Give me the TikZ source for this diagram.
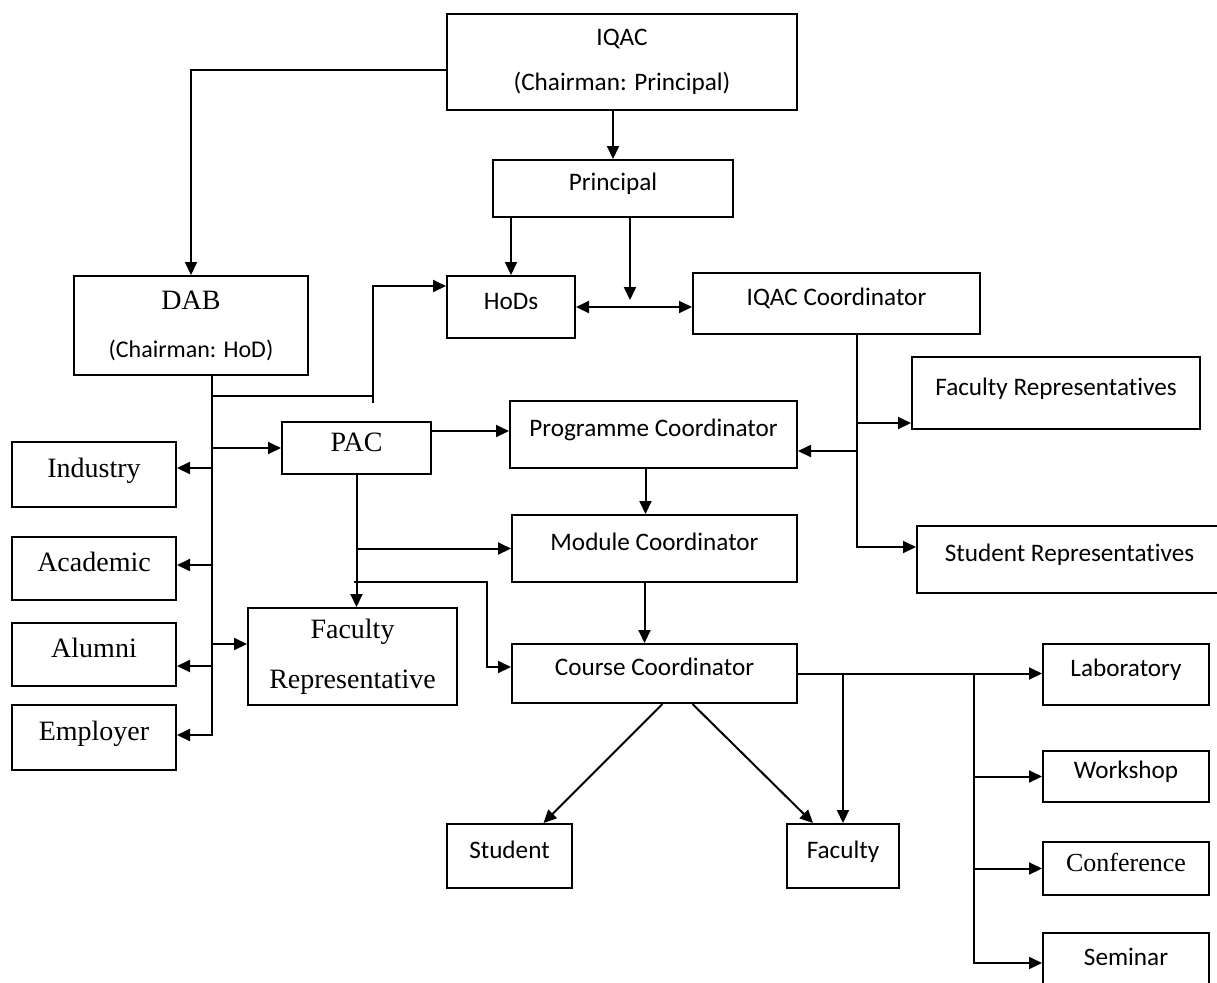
\documentclass[tikz,border=0pt]{standalone}
\usepackage{fontspec}
\setmainfont{Liberation Serif}
\newfontfamily\calib[Ligatures=NoCommon]{Carlito}
\usetikzlibrary{arrows.meta}

\tikzset{
  orgbox/.style = {draw, line width=1pt, inner sep=0pt, align=center},
  sans/.style = {font=\calib\fontsize{12.6}{15}\selectfont},
  serif/.style = {font=\fontsize{14}{17}\selectfont},
  oneline/.style = {text height=8pt, text depth=6pt},
  onelineserif/.style = {text height=9pt, text depth=6pt},
  wire/.style = {line width=1pt},
  link/.style = {wire, -{Triangle[length=6.5pt, width=6pt]}},
  twoway/.style = {wire, {Triangle[length=6.5pt, width=6pt]}-{Triangle[length=6.5pt, width=6pt]}}
}

\begin{document}
\begin{tikzpicture}[x=0.5pt, y=-0.5pt]
    \useasboundingbox (0,0) rectangle (1217,982);

    % top of the chart
    \node (iqac) [orgbox, sans, minimum width=175pt, minimum height=48pt] at (622,62) {IQAC\\[7.5pt](Chairman: Principal)};
    \node (princ) [orgbox, sans, oneline, minimum width=120pt, minimum height=28.5pt] at (613,188.5) {Principal};
    \node (hods) [orgbox, sans, oneline, minimum width=64pt, minimum height=31pt] at (511,307) {HoDs};
    \node (iqacc) [orgbox, sans, oneline, minimum width=143.5pt, minimum height=30.5pt] at (836.5,303.5) {IQAC Coordinator};
    \node (dab) [orgbox, font=\calib\fontsize{12}{14}\selectfont, minimum width=117pt, minimum height=49.5pt] at (191,325.5) {{\rmfamily\fontsize{14}{14}\selectfont DAB}\\[10pt](Chairman: HoD)};

    % middle
    \node (facreps) [orgbox, sans, oneline, minimum width=144pt, minimum height=36pt] at (1056,393) {Faculty Representatives};
    \node (studreps) [orgbox, sans, oneline, minimum width=152.5pt, minimum height=33.5pt] at (1069.5,559.5) {Student Representatives};
    \node (pac) [orgbox, serif, onelineserif, minimum width=74.5pt, minimum height=26pt] at (356.5,448) {PAC};
    \node (progc) [orgbox, sans, oneline, minimum width=143.5pt, minimum height=33.5pt] at (653.5,434.5) {Programme Coordinator};
    \node (modc) [orgbox, sans, oneline, minimum width=142.5pt, minimum height=33.5pt] at (654.5,548.5) {Module Coordinator};
    \node (coursec) [orgbox, sans, oneline, minimum width=142.5pt, minimum height=29.5pt] at (654.5,673.5) {Course Coordinator};
    \node (facrep) [orgbox, serif, minimum width=104.5pt, minimum height=48.5pt] at (352.5,656.5) {Faculty\\[8pt]Representative};

    % left column
    \node (industry) [orgbox, serif, onelineserif, minimum width=82pt, minimum height=32.5pt] at (94,474.5) {Industry};
    \node (academic) [orgbox, serif, onelineserif, minimum width=82pt, minimum height=31.5pt] at (94,568.5) {Academic};
    \node (alumni) [orgbox, serif, onelineserif, minimum width=82pt, minimum height=31.5pt] at (94,654.5) {Alumni};
    \node (employer) [orgbox, serif, onelineserif, minimum width=82pt, minimum height=32.5pt] at (94,737.5) {Employer};

    % bottom and right column
    \node (student) [orgbox, sans, oneline, minimum width=62.5pt, minimum height=32pt] at (509.5,856) {Student};
    \node (faculty) [orgbox, sans, oneline, minimum width=56pt, minimum height=32pt] at (843,856) {Faculty};
    \node (lab) [orgbox, sans, oneline, minimum width=83pt, minimum height=30.5pt] at (1126,674.5) {Laboratory};
    \node (workshop) [orgbox, sans, oneline, minimum width=83pt, minimum height=25.5pt] at (1126,776.5) {Workshop};
    \node (conference) [orgbox, onelineserif, font=\fontsize{13}{15}\selectfont, minimum width=83pt, minimum height=26.5pt] at (1126,868.5) {Conference};
    \node (seminar) [orgbox, sans, oneline, minimum width=83pt, minimum height=30pt] at (1126,963) {Seminar};

    % junction points
    \path (hods.east) ++(27pt,0) coordinate (junc);
    \path (dab.south) ++(10.5pt,0) coordinate (trunk);
    \path (iqacc.south) ++(10.25pt,0) coordinate (rtrunk);
    \path (coursec.east) ++(88pt,0) coordinate (ltrunk);
    \coordinate (hbend) at (373,396);
    \coordinate (cbend) at (487,582);

    % IQAC, Principal, HoDs
    \draw [link] ([yshift=-4pt]iqac.west) -| (dab.north);
    \draw [link] (princ.north |- iqac.south) -- (princ.north);
    \draw [link] (hods.north |- princ.south) -- (hods.north);
    \draw [link] (princ.south -| junc) -- ([yshift=3.5pt]junc);
    \draw [twoway] (hods.east) -- (hods.east -| iqacc.west);

    % DAB trunk
    \draw [link] (trunk) |- ([yshift=1.25pt]employer.east);
    \draw [wire] (trunk |- hbend) -- (hbend);
    \draw [link] ([yshift=-3.5pt]hbend) |- ([yshift=10.5pt]hods.west);
    \draw [link] (trunk |- pac.west) -- (pac.west);
    \draw [link] (trunk |- industry.east) ++(0,-6.5) -- ([yshift=3.25pt]industry.east);
    \draw [link] (trunk |- academic.east) ++(0,-3.5) -- ([yshift=1.75pt]academic.east);
    \draw [link] (trunk |- alumni.east) ++(0,11.5) -- ([yshift=-5.75pt]alumni.east);
    \draw [link] (trunk |- facrep.west) ++(0,-12.5) -- ([yshift=6.25pt]facrep.west);

    % PAC
    \draw [link] ([yshift=8.5pt]pac.east) coordinate (p1) -- (p1 -| progc.west);
    \draw [link] (pac.south) -- (pac.south |- facrep.north);
    \draw [link] (pac.south |- modc.west) -- (modc.west);
    \draw [link] (pac.south |- cbend) ++(-3,0) -- (cbend) |- ([yshift=3.25pt]coursec.west);

    % IQAC coordinator trunk
    \draw [link] (rtrunk) |- ([yshift=6.25pt]studreps.west);
    \draw [link] (rtrunk |- facreps.west) ++(0,30) -- ([yshift=-15pt]facreps.west);
    \draw [link] (rtrunk |- progc.east) ++(0,16.5) -- ([yshift=-8.25pt]progc.east);

    % coordinators
    \draw [link] ([xshift=-4pt]progc.south) -- ([xshift=-4pt]progc.south |- modc.north);
    \draw [link] ([xshift=-5pt]modc.south) -- ([xshift=-5pt]modc.south |- coursec.north);
    \draw [link] ([xshift=4pt]coursec.south) -- ([xshift=17pt]student.north);
    \draw [link] ([xshift=19pt]coursec.south) -- ([xshift=-15pt]faculty.north);
    \draw [link] (coursec.east) -- (coursec.east -| lab.west);
    \draw [link] (coursec.east -| faculty.north) -- (faculty.north);
    \draw [link] (ltrunk) |- (seminar.west);
    \draw [link] (ltrunk |- workshop.west) -- (workshop.west);
    \draw [link] (ltrunk |- conference.west) -- (conference.west);
\end{tikzpicture}
\end{document}
